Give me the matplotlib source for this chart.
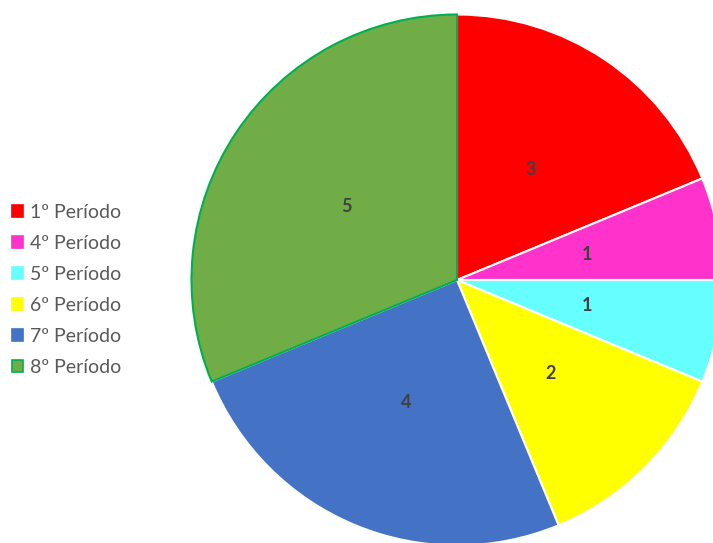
import matplotlib.pyplot as plt
from matplotlib.patches import Patch

# Données
periodos = ['1º Período', '4º Período', '5º Período', '6º Período', '7º Período', '8º Período']
valores = [3, 1, 1, 2, 4, 5]
cores = ['#FF0000', '#FF33CC', '#66FFFF', '#FFFF00', '#4472C4', '#70AD47']
bordas = ['white', 'white', 'white', 'white', 'white', '#00B050']

total = sum(valores)

fig = plt.figure(figsize=(7.13, 5.43), dpi=100)
ax = fig.add_axes([0, 0, 1, 1])

wedges, texts, autotexts = ax.pie(
    valores, colors=cores, startangle=90, counterclock=False,
    center=(457, 263), radius=265.5,
    autopct=lambda p: f'{round(p * total / 100):d}', pctdistance=0.5,
    wedgeprops=dict(linewidth=1.5, edgecolor='white'),
    textprops=dict(color='#404040', fontsize=13, fontweight='bold', family='Lato'),
)
for w, b in zip(wedges, bordas):
    w.set_edgecolor(b)
wedges[-1].set_zorder(3)

ax.set_xlim(0, 713)
ax.set_ylim(0, 543)
ax.set_aspect('equal')
ax.axis('off')

handles = [Patch(facecolor=c, edgecolor=(b if b != 'white' else c), linewidth=1.2)
           for c, b in zip(cores, bordas)]
leg = ax.legend(handles, periodos, loc='center left', bbox_to_anchor=(12 / 713, 253 / 543),
                frameon=False, borderpad=0, borderaxespad=0,
                handlelength=0.55, handleheight=0.55, handletextpad=0.35, labelspacing=0.72,
                prop=dict(family='Lato', size=14))
for t in leg.get_texts():
    t.set_color('#595959')

fig.savefig('out.png', dpi=100)
